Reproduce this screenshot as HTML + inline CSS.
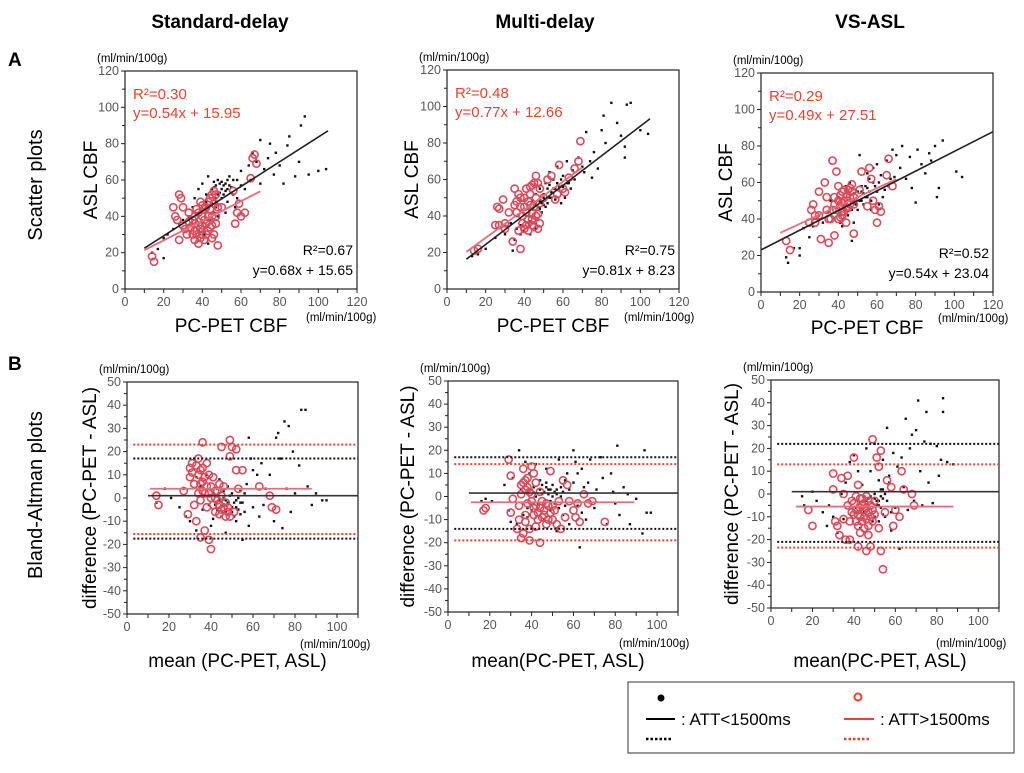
<!DOCTYPE html>
<html><head><meta charset="utf-8"><style>
body{margin:0;background:#fff;width:1024px;height:768px;overflow:hidden;font-family:"Liberation Sans",sans-serif}
svg text{font-family:"Liberation Sans",sans-serif}
</style></head><body>
<svg id="fig" width="1024" height="768" xmlns="http://www.w3.org/2000/svg">
<text x="220" y="28" font-size="19" font-weight="bold" text-anchor="middle">Standard-delay</text>
<text x="545" y="28" font-size="19" font-weight="bold" text-anchor="middle">Multi-delay</text>
<text x="870" y="28" font-size="19" font-weight="bold" text-anchor="middle">VS-ASL</text>
<text x="8" y="66" font-size="19" font-weight="bold">A</text>
<text x="8" y="370" font-size="19" font-weight="bold">B</text>
<text transform="translate(42,185) rotate(-90)" font-size="20" text-anchor="middle">Scatter plots</text>
<text transform="translate(42,495) rotate(-90)" font-size="20" text-anchor="middle">Bland-Altman plots</text>
<g>
<rect x="628" y="682" width="386" height="71" fill="none" stroke="#333" stroke-width="1"/>
<circle cx="661" cy="698" r="3.5" fill="#000"/>
<line x1="646" y1="719" x2="675" y2="719" stroke="#000" stroke-width="2"/>
<line x1="646" y1="739" x2="672" y2="739" stroke="#000" stroke-width="2.5" stroke-dasharray="2.5,2"/>
<text x="681" y="725" font-size="17">: ATT&lt;1500ms</text>
<circle cx="858" cy="697" r="3.5" fill="none" stroke="#e8432f" stroke-width="2"/>
<line x1="844" y1="719" x2="874" y2="719" stroke="#e8432f" stroke-width="2"/>
<line x1="844" y1="739" x2="871" y2="739" stroke="#e8432f" stroke-width="2.5" stroke-dasharray="2.5,2"/>
<text x="880" y="725" font-size="17">: ATT&gt;1500ms</text>
</g>
</svg>
<script>
const scatterTicks=[0,20,40,60,80,100,120];
const baXTicks=[0,20,40,60,80,100];
const baYTicks=[50,40,30,20,10,0,-10,-20,-30,-40,-50];
const s1Black=[[14,20],[17,22],[20,17],[20,28],[22,30],[25,33],[28,36],[30,38],[33,40],[35,45],[36,50],[38,55],[40,58],[42,48],[43,62],[45,52],[46,56],[47,45],[48,60],[50,55],[50,50],[52,58],[53,48],[54,62],[55,53],[56,60],[57,45],[58,50],[60,57],[60,65],[62,55],[64,68],[65,60],[66,75],[68,70],[70,58],[70,82],[72,66],[74,72],[75,80],[77,63],[78,75],[80,68],[82,58],[84,79],[85,84],[88,62],[90,70],[91,90],[93,95],[95,63],[100,65],[104,66],[44,38],[46,42],[41,30],[43,25],[48,40],[52,42],[38,32],[49,53],[51,57],[47,50],[53,55],[45,47],
[45,55],[47,57],[49,58],[51,52],[53,60],[55,56],[44,50],[46,59],[48,52],[50,59],[52,54],[54,57],[42,52],[43,45],[39,42],[37,38],[34,36],[47,48],[56,52],[58,60]];
const s1Red=[[14,18],[15,15],[25,45],[26,40],[27,38],[28,52],[29,50],[28,27],[30,35],[32,30],[33,42],[35,38],[35,30],[36,27],[37,44],[38,25],[38,35],[39,48],[40,30],[40,40],[41,27],[42,36],[42,45],[43,32],[44,50],[45,40],[45,28],[46,54],[47,36],[48,24],[48,45],[47,52],[46,47],[50,45],[57,36],[58,42],[59,47],[60,40],[62,42],[65,61],[66,72],[67,74],[68,69],[56,54],[44,34],[41,44],[39,33],[36,36],
[34,34],[36,40],[38,42],[40,35],[42,30],[43,40],[44,44],[45,35],[46,30],[47,40],[37,30],[39,28],[41,38],[43,48],[45,52],[40,46],[31,33],[33,37],[30,45],[36,32]];
const s2Black=[[13,18],[16,19],[20,22],[25,28],[28,34],[30,30],[33,36],[35,27],[36,40],[38,35],[40,38],[42,44],[43,30],[44,48],[45,40],[46,52],[47,45],[48,55],[49,42],[50,50],[51,58],[52,47],[53,64],[54,53],[55,60],[56,49],[57,67],[58,56],[60,62],[61,50],[62,70],[63,58],[64,55],[65,65],[66,60],[68,72],[70,67],[71,64],[72,86],[74,70],[76,75],[78,66],[80,87],[81,95],[82,80],[85,102],[88,91],[90,84],[92,72],[93,101],[95,102],[100,87],[104,85],[92,78],[75,61],[59,47],[46,33],[40,32],[34,21],[50,46],[53,50],[56,55],[48,44],
[44,44],[46,46],[48,48],[50,52],[52,55],[54,50],[45,36],[47,38],[49,47],[51,45],[53,57],[55,55],[57,58],[59,60],[42,40],[43,37],[38,30],[36,33],[60,56],[62,58]];
const s2Red=[[14,21],[16,22],[25,35],[26,45],[27,44],[29,49],[30,36],[32,42],[34,26],[35,55],[36,48],[37,32],[38,22],[38,50],[39,40],[40,33],[40,45],[41,55],[42,38],[43,52],[44,35],[45,58],[45,45],[46,62],[47,41],[48,55],[50,50],[52,60],[54,62],[56,49],[57,52],[58,68],[60,55],[61,53],[63,61],[66,66],[68,70],[69,81],[47,33],[43,46],[41,42],[44,57],
[38,45],[40,50],[42,48],[43,56],[44,42],[46,50],[47,58],[48,47],[39,36],[41,35],[42,32],[44,38],[45,34],[36,42],[35,46],[37,52],[30,33],[27,35],[46,40],[48,36]];
const s3Black=[[13,19],[14,16],[17,24],[20,24],[20,20],[22,35],[25,30],[27,36],[30,42],[32,38],[35,44],[36,50],[38,40],[40,52],[42,36],[43,46],[44,58],[45,42],[46,60],[47,28],[48,50],[49,56],[50,45],[51,75],[52,55],[53,48],[54,58],[55,52],[56,62],[57,45],[58,68],[60,55],[61,48],[62,64],[63,52],[65,72],[66,58],[68,78],[69,63],[70,75],[72,68],[73,80],[75,62],[77,74],[78,57],[80,49],[81,78],[83,70],[85,65],[87,76],[88,72],[90,80],[91,52],[92,57],[94,83],[101,66],[104,63],[60,70],[55,65],[48,38],[44,48],[41,44],[50,52],[52,50],
[46,50],[48,54],[50,55],[52,58],[54,52],[56,55],[58,60],[49,48],[51,50],[53,54],[55,57],[47,45],[45,50],[43,40],[41,38],[57,50],[59,58],[61,60],[64,56],[67,62]];
const s3Red=[[13,28],[15,23],[25,38],[26,45],[27,48],[28,42],[30,55],[31,29],[33,60],[34,52],[35,27],[35,40],[37,72],[37,45],[38,31],[38,52],[39,66],[40,40],[40,58],[41,47],[42,44],[42,55],[43,50],[44,38],[45,56],[45,46],[46,52],[47,59],[48,32],[48,48],[51,56],[52,66],[55,47],[56,68],[57,62],[58,50],[59,45],[60,38],[61,47],[62,44],[65,64],[66,73],[68,58],
[40,50],[41,53],[42,49],[43,56],[44,52],[45,50],[46,48],[47,55],[44,46],[42,42],[41,41],[39,45],[43,44],[46,57],[48,52],[36,40],[34,45],[30,42],[28,38],[38,48]];
const b1Black=[[14,-2],[18,4],[21,0],[25,-4],[27,4],[28,-8],[30,-10],[32,17],[33,-14],[35,5],[36,-5],[38,10],[40,-12],[41,2],[42,-3],[44,8],[45,-8],[46,0],[47,-15],[48,5],[49,-5],[50,2],[51,-2],[52,-10],[53,0],[54,3],[55,-18],[56,-6],[57,6],[58,26],[59,17],[60,-4],[62,10],[63,-8],[64,15],[65,-3],[66,4],[68,10],[70,-10],[71,26],[72,28],[73,17],[74,-13],[75,33],[76,4],[77,31],[78,-6],[79,20],[80,2],[82,14],[83,38],[85,38],[86,5],[88,-3],[90,2],[93,-1],[95,-1],[45,-3],[47,-1],[50,-6],[52,-4],[54,-2],[43,4],
[48,-2],[50,-4],[52,-1],[53,-5],[54,-7],[55,-2],[51,-8],[49,1],[47,-6],[46,3],[44,-1],[43,-5],[41,-9],[39,-3],[37,1],[35,14],[33,9],[56,2],[58,-12],[60,12]];
const b1Red=[[14,1],[15,-3],[27,3],[29,-7],[30,13],[30,9],[31,15],[32,6],[32,-3],[33,-10],[34,17],[34,2],[35,-17],[35,12],[36,24],[36,7],[37,-14],[37,2],[38,15],[38,-4],[39,10],[39,-18],[40,-22],[40,5],[41,9],[42,0],[42,-6],[43,3],[44,-3],[45,22],[45,-5],[46,5],[47,-8],[48,-4],[49,25],[49,18],[50,22],[51,-6],[52,21],[52,12],[53,4],[55,12],[63,5],[68,1],[69,-4],[71,-5],[44,6],
[33,14],[34,10],[35,6],[36,3],[37,9],[38,5],[39,2],[40,0],[41,-3],[42,3],[43,-1],[44,-7],[45,1],[46,-4],[47,-2],[48,-6],[49,-8],[36,13],[35,-1],[31,11]];
const b2Black=[[16,-2],[18,-1],[21,-2],[27,5],[29,-6],[30,-11],[31,8],[33,-12],[34,20],[35,3],[36,-8],[37,15],[38,-5],[39,10],[40,-13],[41,4],[42,14],[43,-3],[44,7],[45,1],[46,-10],[47,12],[48,3],[49,-6],[50,5],[51,2],[52,-15],[53,16],[54,0],[55,-8],[56,7],[57,10],[58,-12],[60,20],[61,15],[62,-4],[63,-22],[64,12],[65,4],[66,-10],[67,6],[68,16],[70,-5],[71,3],[73,17],[74,8],[76,-12],[78,10],[79,2],[80,-3],[81,22],[82,-8],[84,4],[86,1],[87,-12],[90,-1],[93,-16],[94,20],[95,-7],[97,-7],[47,4],[49,3],[52,1],
[44,3],[46,2],[48,1],[50,0],[52,3],[54,4],[45,5],[47,6],[49,-2],[51,-3],[53,-5],[55,2],[42,0],[40,-6],[38,-9],[56,-4],[58,3],[60,6],[62,10],[64,-7]];
const b2Red=[[17,-6],[18,-5],[29,16],[30,9],[30,-7],[31,-1],[33,-14],[34,-10],[35,5],[35,-18],[36,-16],[36,12],[37,3],[37,-8],[38,8],[38,-3],[39,-19],[40,13],[40,1],[41,-5],[42,-13],[42,6],[43,-10],[44,-20],[44,2],[45,-2],[46,-8],[47,-12],[48,-4],[49,11],[50,-10],[51,-6],[52,-12],[53,-2],[54,-14],[55,7],[56,-9],[57,5],[58,-2],[60,-6],[61,-9],[62,-3],[63,-11],[65,1],[67,-3],[69,-2],[75,-11],
[35,1],[36,6],[37,7],[38,4],[39,2],[40,-2],[41,-8],[42,-4],[43,-7],[44,-5],[45,-9],[46,-6],[47,-3],[48,-10],[49,-7],[50,-4],[37,-11],[39,-14],[34,-4],[41,10]];
const b3Black=[[15,-1],[16,-5],[20,1],[22,-3],[25,-8],[27,-14],[28,-5],[30,-10],[32,-17],[34,0],[35,-11],[36,5],[37,-19],[38,14],[40,17],[41,-6],[42,10],[43,-15],[44,4],[45,-8],[46,20],[47,-2],[48,10],[49,-12],[50,22],[51,-5],[52,6],[53,-1],[54,15],[55,-10],[56,29],[57,5],[58,-16],[59,18],[60,-6],[61,12],[62,-24],[63,16],[64,3],[65,33],[66,-7],[67,20],[68,26],[69,-3],[70,28],[71,41],[72,10],[73,-5],[74,23],[75,36],[76,5],[77,22],[78,-4],[80,21],[81,8],[82,15],[83,42],[83,36],[85,14],[88,13],[50,-2],[52,-3],[54,2],[53,-6],
[48,-1],[50,0],[51,-3],[52,-5],[53,2],[54,-2],[55,0],[49,-4],[47,-6],[46,-3],[45,-1],[44,-9],[42,-11],[40,-2],[56,-3],[54,-9],[52,-12],[50,-10],[57,8],[58,-8]];
const b3Red=[[18,-7],[20,-14],[30,9],[30,2],[31,-12],[32,-14],[33,-18],[34,7],[35,-11],[35,0],[36,-20],[37,8],[37,-5],[38,-20],[39,-3],[40,16],[40,-9],[41,-1],[42,-23],[42,4],[43,-6],[43,-17],[44,-2],[45,-10],[45,-4],[46,-25],[46,-1],[47,-8],[47,-14],[48,-23],[48,-5],[49,24],[49,-12],[50,-3],[51,16],[52,12],[52,-15],[53,-25],[53,19],[54,-33],[55,-8],[56,6],[58,3],[59,-14],[60,-7],[62,-10],[63,10],[64,2],[68,0],[69,-5],
[40,-4],[41,-7],[42,-9],[43,-2],[44,-12],[45,-15],[46,-6],[47,-3],[48,-10],[49,-7],[50,-9],[44,-5],[42,-14],[41,-12],[46,-11],[47,-18],[43,-10],[45,-7],[39,-8],[38,-12]];
const s1Fits=[[0.68,15.65,10,105],[0.54,15.95,10,70]];
const s2Fits=[[0.81,8.23,10,105],[0.77,12.66,10,70]];
const s3Fits=[[0.54,23.04,0,120],[0.49,27.51,10,70]];
const s1Eq=["R²=0.30","y=0.54x + 15.95","R²=0.67","y=0.68x + 15.65"];
const s2Eq=["R²=0.48","y=0.77x + 12.66","R²=0.75","y=0.81x + 8.23"];
const s3Eq=["R²=0.29","y=0.49x + 27.51","R²=0.52","y=0.54x + 23.04"];
const b1Black_m=[10,110,1], b1Black_loa=[17,-17.5], b1Red_m=[11,88,4], b1Red_loa=[23,-15.5];
const b2Black_m=[10,110,1.5], b2Black_loa=[17,-14], b2Red_m=[11,89,-2.5], b2Red_loa=[14,-19];
const b3Black_m=[10,110,1], b3Black_loa=[22,-21], b3Red_m=[12,88,-5.5], b3Red_loa=[13,-23.5];

const NS="http://www.w3.org/2000/svg";
const svg=document.getElementById('fig');
const RED="#d84b5a", EQRED="#e8432f";
function mk(tag,attrs,parent){const e=document.createElementNS(NS,tag);for(const k in attrs)e.setAttribute(k,attrs[k]);(parent||svg).appendChild(e);return e;}

function panel(c){
  const g=mk('g',{});
  
  
  const X=v=>c.x0+(v-c.xd[0])/(c.xd[1]-c.xd[0])*(c.x1-c.x0);
  const Y=v=>c.y0+(v-c.yd[0])/(c.yd[1]-c.yd[0])*(c.y1-c.y0);
  mk('rect',{x:c.x0,y:c.y1,width:c.x1-c.x0,height:c.y0-c.y1,fill:'none',stroke:'#222','stroke-width':1.2},g);
  c.yt.forEach(v=>{mk('line',{x1:c.x0-4,x2:c.x0,y1:Y(v),y2:Y(v),stroke:'#222'},g);
    const t=mk('text',{x:c.x0-6,y:Y(v)+4,'font-size':12.5,fill:'#555','text-anchor':'end'},g);t.textContent=v;
    if(v+c.ystep/2<=c.yd[1])mk('line',{x1:c.x0-3,x2:c.x0,y1:Y(v+c.ystep/2),y2:Y(v+c.ystep/2),stroke:'#222'},g);});
  for(let v=c.xd[0];v<=c.xd[1]+0.01;v+=10){mk('line',{x1:X(v),x2:X(v),y1:c.y0,y2:c.y0+4,stroke:'#222'},g);}
  c.xt.forEach(v=>{const t=mk('text',{x:X(v),y:c.y0+17,'font-size':12.5,fill:'#555','text-anchor':'middle'},g);t.textContent=v;});
  let t=mk('text',{x:c.x0-28,y:c.y1-9,'font-size':11.5},g);t.textContent='(ml/min/100g)';
  t=mk('text',{x:c.unitX,y:c.unitY,'font-size':11.5},g);t.textContent='(ml/min/100g)';
  t=mk('text',{x:(c.x0+c.x1)/2+c.xtOff,y:c.xtY,'font-size':19,'text-anchor':'middle'},g);t.textContent=c.xtitle;
  t=mk('text',{transform:`translate(${c.ytX},${(c.y0+c.y1)/2}) rotate(-90)`,'font-size':19,'text-anchor':'middle'},g);t.textContent=c.ytitle;
  c.black.forEach(p=>{const r=mk('rect',{x:X(p[0])-1.2,y:Y(p[1])-1.2,width:2.4,height:2.4,fill:'#111'},g);
    
    });
  c.red.forEach(p=>{const r=mk('circle',{cx:X(p[0]),cy:Y(p[1]),r:3.6,fill:'none',stroke:RED,'stroke-width':1.6},g);
    
    });
  if(c.fits){
    const f0=c.fits[0],f1=c.fits[1];
    let l=mk('line',{x1:X(f1[2]),y1:Y(f1[0]*f1[2]+f1[1]),x2:X(f1[3]),y2:Y(f1[0]*f1[3]+f1[1]),stroke:'#e0707c','stroke-width':1.8},g);
    
    l=mk('line',{x1:X(f0[2]),y1:Y(f0[0]*f0[2]+f0[1]),x2:X(f0[3]),y2:Y(f0[0]*f0[3]+f0[1]),stroke:'#222','stroke-width':1.6},g);
    
    t=mk('text',{x:c.x0+8,y:c.y1+28,'font-size':15,fill:EQRED},g);t.textContent=c.eq[0];
    t=mk('text',{x:c.x0+8,y:c.y1+47,'font-size':15,fill:EQRED},g);t.textContent=c.eq[1];
    t=mk('text',{x:c.x1-4,y:c.y0-34,'font-size':14,'text-anchor':'end'},g);t.textContent=c.eq[2];
    t=mk('text',{x:c.x1-4,y:c.y0-14,'font-size':14,'text-anchor':'end'},g);t.textContent=c.eq[3];
  }
  if(c.bm){
    [[c.bl,'#111'],[c.rl,EQRED]].forEach(([lo,col])=>lo.forEach(v=>{const l=mk('line',{x1:X(3),x2:c.x1,y1:Y(v),y2:Y(v),stroke:col,'stroke-width':2,'stroke-dasharray':'2,2'},g);
      }));
    let l=mk('line',{x1:X(c.bm[0]),x2:X(c.bm[1]),y1:Y(c.bm[2]),y2:Y(c.bm[2]),stroke:'#333','stroke-width':1.6},g);
    
    l=mk('line',{x1:X(c.rm[0]),x2:X(c.rm[1]),y1:Y(c.rm[2]),y2:Y(c.rm[2]),stroke:'#e0707c','stroke-width':1.8},g);
    
  }
}
const sc={xd:[0,120],yd:[0,120],yt:scatterTicks,xt:scatterTicks,ystep:20,xtitle:'PC-PET CBF',ytitle:'ASL CBF',xtOff:-10};
panel(Object.assign({},sc,{name:'scatter-standard-delay',x0:125,x1:357,y0:289,y1:71,black:s1Black,red:s1Red,fits:s1Fits,eq:s1Eq,unitX:306,unitY:321,xtY:332,ytX:97}));
panel(Object.assign({},sc,{name:'scatter-multi-delay',x0:447,x1:679,y0:289,y1:70,black:s2Black,red:s2Red,fits:s2Fits,eq:s2Eq,unitX:624,unitY:321,xtY:332,ytX:418}));
panel(Object.assign({},sc,{name:'scatter-vs-asl',x0:761,x1:993,y0:292,y1:73,black:s3Black,red:s3Red,fits:s3Fits,eq:s3Eq,unitX:938,unitY:322,xtY:334,ytX:732}));
const ba={xd:[0,110],yd:[-50,50],yt:baYTicks,xt:baXTicks,ystep:10,ytitle:'difference (PC-PET - ASL)',xtOff:-5};
panel(Object.assign({},ba,{name:'bland-altman-standard-delay',x0:127,x1:358,y0:614,y1:382,black:b1Black,red:b1Red,bm:b1Black_m,bl:b1Black_loa,rm:b1Red_m,rl:b1Red_loa,xtitle:'mean (PC-PET, ASL)',unitX:300,unitY:648,xtY:667,ytX:96}));
panel(Object.assign({},ba,{name:'bland-altman-multi-delay',x0:448,x1:678,y0:612,y1:381,black:b2Black,red:b2Red,bm:b2Black_m,bl:b2Black_loa,rm:b2Red_m,rl:b2Red_loa,xtitle:'mean(PC-PET, ASL)',unitX:619,unitY:647,xtY:667,ytX:414}));
panel(Object.assign({},ba,{name:'bland-altman-vs-asl',x0:771,x1:999,y0:608,y1:380,black:b3Black,red:b3Red,bm:b3Black_m,bl:b3Black_loa,rm:b3Red_m,rl:b3Red_loa,xtitle:'mean(PC-PET, ASL)',unitX:936,unitY:647,xtY:667,ytX:738}));
</script>
</body></html>
